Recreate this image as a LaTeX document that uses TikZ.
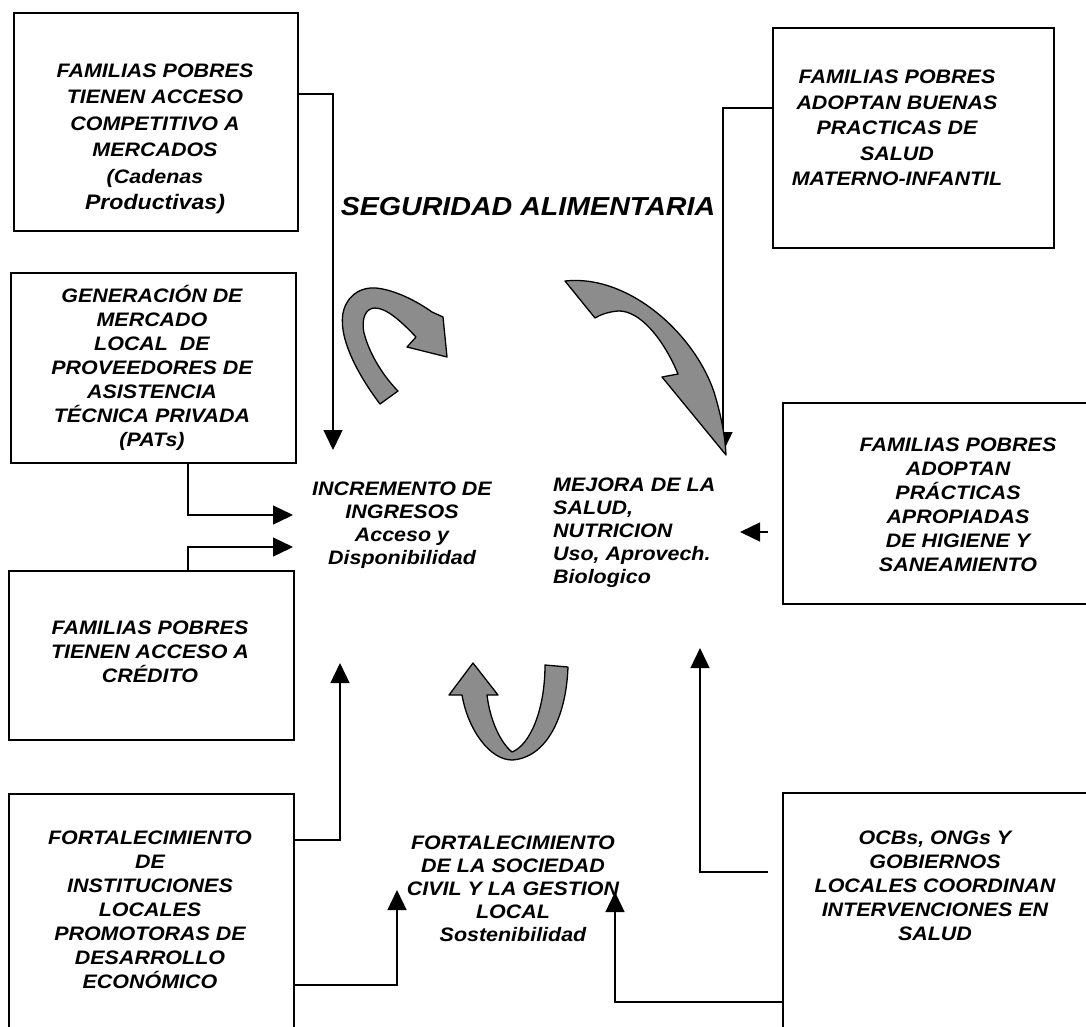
\documentclass[tikz,border=0pt]{standalone}
\usepackage{fontspec}
\newfontfamily\lblfont{Liberation Sans}[FakeStretch=1.1]
\usetikzlibrary{arrows.meta}

\begin{document}
\begin{tikzpicture}[x=1pt,y=-1pt,
  box/.style={draw, line width=2.4pt, rectangle, anchor=north west, inner sep=0pt},
  lbl/.style={font=\lblfont\bfseries\itshape\fontsize{19.5}{24}\selectfont, align=center, inner sep=0pt},
  widelbl/.style={font=\lblfont\bfseries\itshape\fontsize{19.5}{26.5}\selectfont, align=center, inner sep=0pt},
  midlbl/.style={font=\lblfont\bfseries\itshape\fontsize{19.5}{23}\selectfont, align=center, inner sep=0pt},
  link/.style={line width=1.4pt, -{Triangle[length=20pt,width=19pt]}},
  cycle arrow/.style={fill=black!45, draw=black, line width=1.3pt, line join=round}]
\clip (0,0) rectangle (1086,1026);
\fill[white] (0,0) rectangle (1086,1026);

% outcome boxes, left column
\node[box, minimum width=284pt, minimum height=218pt] (b1) at (13,12) {};
\node[box, minimum width=285pt, minimum height=190pt] (b2) at (10,272) {};
\node[box, minimum width=285pt, minimum height=169pt] (b3) at (8,570) {};
\node[box, minimum width=285pt, minimum height=260pt] (b4) at (8,793) {};
% outcome boxes, right column
\node[box, minimum width=281pt, minimum height=220pt] (b5) at (772,27) {};
\node[box, minimum width=330pt, minimum height=201pt] (b6) at (782,402) {};
\node[box, minimum width=320pt, minimum height=260pt] (b7) at (782,792) {};

% box texts
\node[widelbl] (x1) at (155,139) {FAMILIAS POBRES\\TIENEN ACCESO\\COMPETITIVO A\\MERCADOS\\(Cadenas\\{\fontsize{21}{26.5}\selectfont Productivas)}};
\node[lbl] (x2) at (152,368) {GENERACI\'ON DE\\MERCADO\\LOCAL\ \ DE\\PROVEEDORES DE\\ASISTENCIA\\T\'ECNICA PRIVADA\\(PATs)};
\node[lbl] (x3) at (150,652) {FAMILIAS POBRES\\TIENEN ACCESO A\\CR\'EDITO};
\node[lbl] (x4) at (150,910) {FORTALECIMIENTO\\DE\\INSTITUCIONES\\LOCALES\\PROMOTORAS DE\\DESARROLLO\\ECON\'OMICO};
\node[font=\lblfont\bfseries\itshape\fontsize{19.5}{25.5}\selectfont, align=center, inner sep=0pt] (x5) at (897,128) {FAMILIAS POBRES\\ADOPTAN BUENAS\\PRACTICAS DE\\SALUD\\MATERNO-INFANTIL};
\node[lbl] (x6) at (958,505) {FAMILIAS POBRES\\ADOPTAN\\PR\'ACTICAS\\APROPIADAS\\DE HIGIENE Y\\SANEAMIENTO};
\node[lbl] (x7) at (935,886) {OCBs, ONGs Y\\GOBIERNOS\\LOCALES COORDINAN\\INTERVENCIONES EN\\SALUD};

% central texts
\node[font=\lblfont\bfseries\itshape\fontsize{26}{30}\selectfont, inner sep=0pt] (title) at (528,207) {SEGURIDAD ALIMENTARIA};
\node[midlbl] (inc) at (402,525) {INCREMENTO DE\\INGRESOS\\Acceso y\\Disponibilidad};
\node[midlbl, align=left, anchor=west] (mej) at (553,533) {MEJORA DE LA\\SALUD,\\NUTRICION\\Uso, Aprovech.\\Biologico};
\node[midlbl] (soc) at (513,889) {FORTALECIMIENTO\\DE LA SOCIEDAD\\CIVIL Y LA GESTION\\LOCAL\\Sostenibilidad};

% arrow tips and detached starts
\coordinate (t1) at (333,450);
\coordinate (t2) at (293,515);
\coordinate (t3) at (293,547);
\coordinate (t4) at (340,663);
\coordinate (t5) at (397,890);
\coordinate (t6) at (723,452);
\coordinate (t7) at (740,532);
\coordinate (t8) at (700,648);
\coordinate (t9) at (615,892);
\coordinate (s7) at ([xshift=-14pt]b6.west);
\coordinate (s8) at ([xshift=-14pt]b7.west);

% connectors
\draw[link] (b1.east |- 0,94) -| (t1);
\draw[link] (b2.south -| 188,0) |- (t2);
\draw[link] (b3.north -| 188,0) |- (t3);
\draw[link] (b4.east |- 0,840) -| (t4);
\draw[link] (b4.east |- 0,985) -| (t5);
\draw[link] (b5.west |- 0,108) -| (t6);
\draw[link] (s7 |- t7) -- (t7);
\draw[link] (s8 |- 0,872) -| (t8);
\draw[link] (b7.west |- 0,1002) -| (t9);

% cycle arrows
\draw[cycle arrow] (380,404)
  .. controls (358,375) and (336,335) .. (344,309)
  .. controls (350,292) and (364,287) .. (376,288)
  .. controls (396,290) and (418,302) .. (432,312)
  -- (443,317) -- (447,357) -- (407,347) -- (416,337)
  .. controls (400,320) and (386,308) .. (375,308)
  .. controls (366,308) and (361,318) .. (364,333)
  .. controls (370,356) and (385,378) .. (398,391)
  -- cycle;
\draw[cycle arrow] (565,281)
  .. controls (628,274) and (694,333) .. (714,392)
  .. controls (721,415) and (725,435) .. (726,455)
  -- (662,377) -- (678,374)
  .. controls (664,340) and (640,310) .. (618,311)
  .. controls (607,312) and (600,315) .. (595,318)
  -- cycle;
\draw[cycle arrow] (473,663) -- (498,695) -- (487,695)
  .. controls (490,720) and (500,742) .. (512,752)
  .. controls (530,745) and (545,710) .. (545,665)
  -- (568,667)
  .. controls (566,720) and (545,758) .. (512,760)
  .. controls (490,760) and (468,730) .. (462,695)
  -- (449,695) -- cycle;
\end{tikzpicture}
\end{document}
